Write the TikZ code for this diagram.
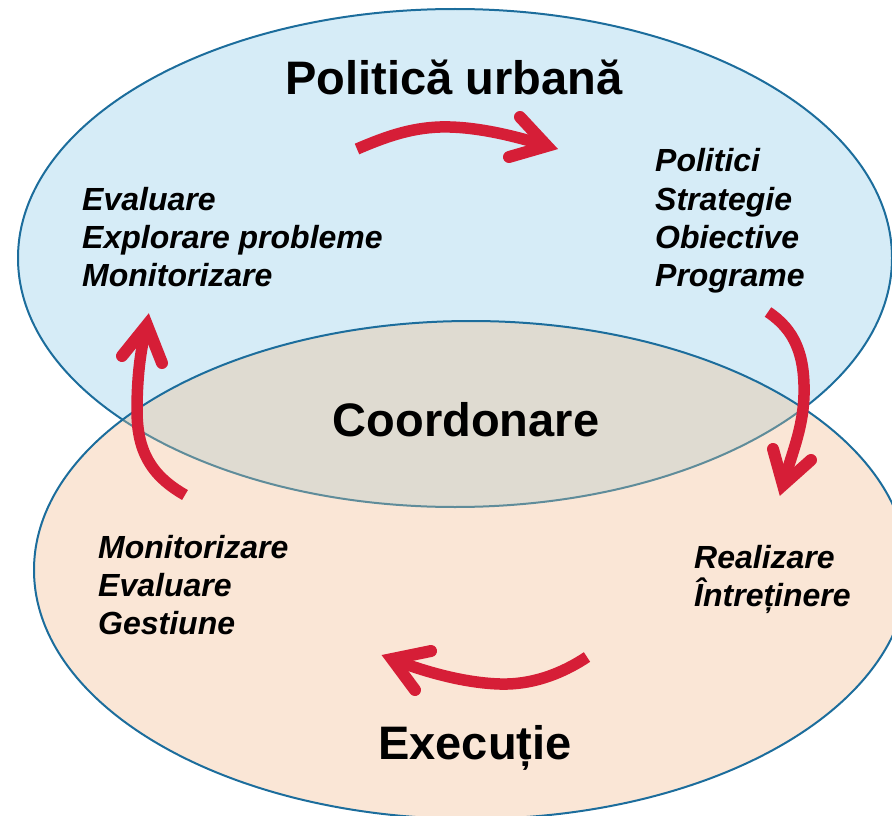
\documentclass[tikz,border=0pt]{standalone}
\usepackage{fontspec}
\setmainfont{Liberation Sans}
\definecolor{topfill}{HTML}{D6ECF7}
\definecolor{botfill}{HTML}{FAE6D6}
\definecolor{lensfill}{HTML}{DFDBD1}
\definecolor{rimblue}{HTML}{1C6D9C}
\definecolor{rimgray}{HTML}{5F8C9A}
\definecolor{arrowred}{HTML}{D61E37}
\tikzset{
  rim/.style={line width=2pt},
  redshaft/.style={draw=arrowred, line width=11.5pt, line cap=butt},
  redhead/.style={draw=arrowred, line width=12pt, line cap=round, line join=miter},
  bigtitle/.style={inner sep=0pt, anchor=base, font=\fontsize{47}{56}\selectfont\bfseries},
  itemline/.style={inner sep=0pt, anchor=base west, font=\fontsize{32}{38}\selectfont\bfseries\itshape},
}
\begin{document}
\begin{tikzpicture}[x=1pt,y=-1pt]
\useasboundingbox (0,0) rectangle (892,816);
\clip (0,0) rectangle (892,816);
\def\toppath{(455,258) ellipse [x radius=437, y radius=249]}
\def\botpath{(471,570) ellipse [x radius=437, y radius=249]}
% top ellipse
\fill[topfill] \toppath;
\draw[rim, rimblue] \toppath;
% bottom ellipse
\fill[botfill] \botpath;
% lens
\begin{scope}
  \clip \toppath;
  \fill[lensfill] \botpath;
\end{scope}
\begin{scope}
  \clip \botpath;
  \draw[rim, rimgray] \toppath;
\end{scope}
\draw[rim, rimblue] \botpath;

% titles
\node[bigtitle] (pol) at (454,95) {Politică urbană};
\node[bigtitle] (coord) at (466,436) {Coordonare};
\node[bigtitle] (exec) at (475,759) {Execuție};

% top-left block
\node[itemline] (tl1) at (82,210) {Evaluare};
\node[itemline] (tl2) at (82,248) {Explorare probleme};
\node[itemline] (tl3) at (82,286) {Monitorizare};
% top-right block
\node[itemline] (tr1) at (655,171) {Politici};
\node[itemline] (tr2) at (655,210) {Strategie};
\node[itemline] (tr3) at (655,248) {Obiective};
\node[itemline] (tr4) at (655,286) {Programe};
% bottom-left block
\node[itemline] (bl1) at (98,558) {Monitorizare};
\node[itemline] (bl2) at (98,596) {Evaluare};
\node[itemline] (bl3) at (98,634) {Gestiune};
% bottom-right block
\node[itemline] (br1) at (694,568) {Realizare};
\node[itemline] (br2) at (694,606) {Întreținere};

% arrow 1 (top, to the right)
\coordinate (a1s) at (357,149);
\coordinate (a1m) at (440,127);
\coordinate (a1v) at (547,146);
\coordinate (a1b) at (520,117);
\coordinate (a1c) at (509,157);
\draw[redshaft] (a1s) .. controls (385,137) and (410,128) .. (a1m) .. controls (475,126) and (515,136) .. (a1v);
\draw[redhead] (a1b) -- (a1v) -- (a1c);

% arrow 2 (right, downward)
\coordinate (a2s) at (768,312);
\coordinate (a2m) at (804,395);
\coordinate (a2v) at (783,485);
\coordinate (a2b) at (773,449);
\coordinate (a2c) at (811,460);
\draw[redshaft] (a2s) .. controls (795,330) and (805,355) .. (a2m) .. controls (803,430) and (791,455) .. (a2v);
\draw[redhead] (a2b) -- (a2v) -- (a2c);

% arrow 3 (bottom, to the left)
\coordinate (a3s) at (587,657);
\coordinate (a3m) at (500,684);
\coordinate (a3v) at (392,659);
\coordinate (a3b) at (431,651);
\coordinate (a3c) at (415,690);
\draw[redshaft] (a3s) .. controls (560,675) and (530,685) .. (a3m) .. controls (465,683) and (425,672) .. (a3v);
\draw[redhead] (a3b) -- (a3v) -- (a3c);

% arrow 4 (left, upward)
\coordinate (a4s) at (185,495);
\coordinate (a4m) at (137,410);
\coordinate (a4v) at (147,325);
\coordinate (a4b) at (122,356);
\coordinate (a4c) at (162,363);
\draw[redshaft] (a4s) .. controls (150,475) and (137,450) .. (a4m) .. controls (137,380) and (140,350) .. (a4v);
\draw[redhead] (a4b) -- (a4v) -- (a4c);
\end{tikzpicture}
\end{document}
